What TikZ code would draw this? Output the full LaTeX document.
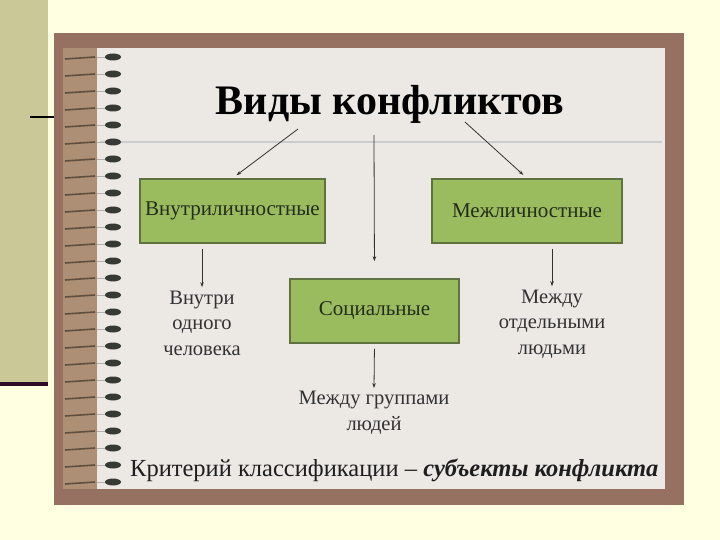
\documentclass[tikz,border=0pt]{standalone}
\usepackage{fontspec}
\setmainfont{Liberation Serif}
\usetikzlibrary{arrows.meta,positioning}
\definecolor{pagebg}{RGB}{255,255,226}
\definecolor{stripkhaki}{RGB}{201,200,150}
\definecolor{stripline}{RGB}{45,10,40}
\definecolor{framebrown}{RGB}{150,112,96}
\definecolor{coilbrown}{RGB}{172,143,116}
\definecolor{paper}{RGB}{236,233,229}
\definecolor{boxgreen}{RGB}{155,187,95}
\definecolor{boxedge}{RGB}{95,115,65}
\definecolor{boxtext}{RGB}{35,45,25}
\definecolor{inkgray}{RGB}{50,50,50}
\definecolor{holegray}{RGB}{55,58,52}
\tikzstyle{kindbox}=[rectangle,draw=boxedge,line width=1.5pt,fill=boxgreen,
                     minimum height=64pt,font=\fontsize{21}{24}\selectfont,text=boxtext]
\tikzstyle{note}=[align=center,font=\fontsize{20.5}{25.5}\selectfont,text=inkgray]
\tikzstyle{arrow}=[-{Stealth[length=5pt,width=3.5pt]},line width=0.8pt,draw=inkgray]

\begin{document}
\begin{tikzpicture}[x=1pt,y=-1pt]
  \useasboundingbox (0,0) rectangle (720,540);
  \fill[pagebg] (0,0) rectangle (720,540);
  % left strip of the slide
  \fill[stripkhaki] (0,0) rectangle (48,382);
  \fill[stripline] (0,382) rectangle (48,386);
  \draw[black,line width=1.5pt] (30,117) -- (55,117);
  % notebook
  \fill[framebrown] (54,33) rectangle (684,505);
  \fill[coilbrown] (63,48) rectangle (97,489);
  \fill[paper] (97,48) rectangle (665,489);
  \draw[gray!40,line width=1.5pt] (100,142) -- (662,142);
  \foreach \k [evaluate=\k as \hy using 57+17*\k] in {0,...,25} {
    \draw[coilbrown!55!black,line width=1.6pt] (65,\hy+2) -- (95,\hy);
    \draw[gray!60,line width=0.6pt] (97,\hy) -- (106,\hy);
    \fill[holegray] (113,\hy) ellipse [x radius=8pt,y radius=3.5pt];
  }

  \node[anchor=base,font=\fontsize{42}{50}\selectfont\bfseries,inner sep=0] (title) at (390,115) {Виды конфликтов};
  \coordinate (tl) at (298,129);
  \coordinate (tm) at (374,135);
  \coordinate (tr) at (465,122);

  \node[kindbox,minimum width=185pt] (intra) at (232.5,211) {Внутриличностные};
  \node[kindbox,minimum width=190pt] (inter) at (527,211) {Межличностные};
  \node[kindbox,minimum width=169pt] (social) at (374.5,311) {Социальные};

  \node[note] (intraTxt) at (202,323) {Внутри\\одного\\человека};
  \node[note] (interTxt) at (552,324) {Между\\отдельными\\людьми};
  \node[note] (socialTxt) at (374,413) {Между группами\\людей};

  \node[anchor=base west,inner sep=0,font=\fontsize{24.5}{29}\selectfont,text=inkgray!60!black] (criterion) at (130,476)
       {Критерий классификации – \textbf{\textit{субъекты конфликта}}};

  \draw[arrow,shorten >=5pt] (tl) -- (intra.north);
  \draw[arrow,shorten >=17pt] (tm) -- (social.north);
  \draw[arrow,shorten >=5pt] (tr) -- (inter.north);
  \draw[arrow,shorten <=5pt] (intra.south -| intraTxt.north) -- (intraTxt.north);
  \draw[arrow,shorten <=5pt] (inter.south -| interTxt.north) -- (interTxt.north);
  \draw[arrow,shorten <=5pt] (social.south) -- (socialTxt.north);
\end{tikzpicture}
\end{document}
